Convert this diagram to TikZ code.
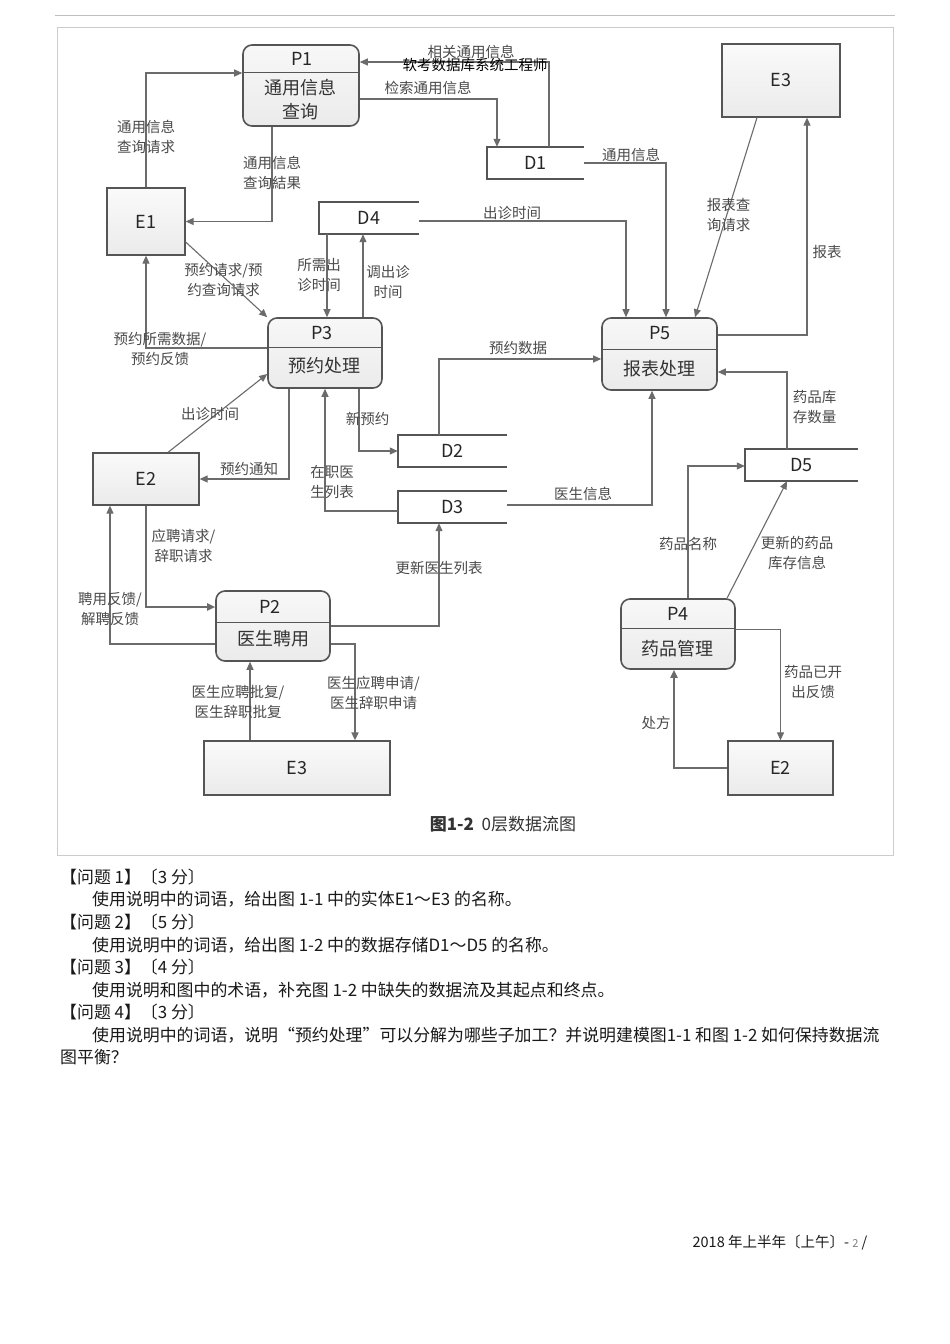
\documentclass[tikz,border=0pt]{standalone}
\usepackage{fontspec}
\setmainfont{Noto Sans CJK SC}
\usetikzlibrary{arrows.meta}

\definecolor{flowline}{HTML}{6B6B6B}
\definecolor{boxline}{HTML}{555555}
\definecolor{labeltext}{HTML}{4A4A4A}
\definecolor{boxfill}{HTML}{EBEBEB}
\definecolor{framegray}{HTML}{CCCCCC}

\tikzset{
  flow/.style={draw=flowline, line width=1.1pt, -{Triangle[length=8pt,width=7pt]}},
  boldflow/.style={flow, line width=1.8pt},
  ent/.style={draw=boxline, line width=1.3pt, top color=white!98!black, bottom color=boxfill,
    inner sep=0pt, font=\fontsize{18}{20}\selectfont, text=black!85},
  proc/.style={draw=boxline, line width=1.6pt, rounded corners=9pt, top color=white!97!black,
    bottom color=boxfill, inner sep=0pt},
  divider/.style={draw=boxline, line width=1.1pt},
  ptitle/.style={font=\fontsize{18}{20}\selectfont, text=black!85, inner sep=0pt},
  pname/.style={font=\fontsize{18}{24}\selectfont, align=center, text=black!80, inner sep=0pt},
  store/.style={minimum height=32pt, inner sep=0pt, font=\fontsize{18}{20}\selectfont, text=black!85},
  storeline/.style={draw=boxline, line width=1.8pt},
  lbl/.style={font=\fontsize{14.5}{20}\selectfont, align=center, text=labeltext, inner sep=0pt},
  wmark/.style={font=\fontsize{14.5}{16}\selectfont, text=black, inner sep=0pt},
  qline/.style={font=\fontsize{16.9}{20}\selectfont, anchor=west, text=black!90, inner sep=0pt},
}

\begin{document}
\begin{tikzpicture}[x=1pt, y=-1pt]
  \useasboundingbox (0,0) rectangle (950,1344);
  \fill[white] (0,0) rectangle (950,1344);
  \draw[gray!50] (55,15) -- (895,15);
  \draw[framegray] (57,27) rectangle (893,855);

  % entities
  \node[ent, minimum width=78pt, minimum height=67pt] (e1) at (146,221.5) {E1};
  \node[ent, minimum width=118pt, minimum height=73pt] (e3a) at (781,80.5) {E3};
  \node[ent, minimum width=106pt, minimum height=52pt] (e2a) at (146,479) {E2};
  \node[ent, minimum width=186pt, minimum height=54pt] (e3b) at (297,768) {E3};
  \node[ent, minimum width=105pt, minimum height=54pt] (e2b) at (780.5,768) {E2};

  % processes
  \node[proc, minimum width=116pt, minimum height=81pt] (p1) at (301,85.5) {};
  \draw[divider] ([yshift=-28pt]p1.north west) -- ([yshift=-28pt]p1.north east);
  \node[ptitle] (p1t) at (302,59) {P1};
  \node[pname] (p1n) at (300,100) {通用信息\\查询};

  \node[proc, minimum width=114pt, minimum height=70pt] (p3) at (325,353) {};
  \draw[divider] ([yshift=-30pt]p3.north west) -- ([yshift=-30pt]p3.north east);
  \node[ptitle] (p3t) at (322,333) {P3};
  \node[pname] (p3n) at (324,366) {预约处理};

  \node[proc, minimum width=115pt, minimum height=72pt] (p5) at (659.5,354) {};
  \draw[divider] ([yshift=-32pt]p5.north west) -- ([yshift=-32pt]p5.north east);
  \node[ptitle] (p5t) at (660,333) {P5};
  \node[pname] (p5n) at (659,369) {报表处理};

  \node[proc, minimum width=114pt, minimum height=70pt] (p2) at (273,626) {};
  \draw[divider] ([yshift=-32pt]p2.north west) -- ([yshift=-32pt]p2.north east);
  \node[ptitle] (p2t) at (270,607) {P2};
  \node[pname] (p2n) at (273,639) {医生聘用};

  \node[proc, minimum width=114pt, minimum height=70pt] (p4) at (678,634) {};
  \draw[divider] ([yshift=-30pt]p4.north west) -- ([yshift=-30pt]p4.north east);
  \node[ptitle] (p4t) at (678,614) {P4};
  \node[pname] (p4n) at (677,649) {药品管理};

  % data stores
  \node[store, minimum width=97pt] (d1) at (535.5,163) {D1};
  \node[store, minimum width=100pt] (d4) at (369,218) {D4};
  \node[store, minimum width=109pt] (d2) at (452.5,451) {D2};
  \node[store, minimum width=109pt] (d3) at (452.5,507) {D3};
  \node[store, minimum width=113pt] (d5) at (801.5,465) {D5};
  \foreach \s in {d1,d4,d2,d3,d5}
    \draw[storeline] (\s.north east) -- (\s.north west) -- (\s.south west) -- (\s.south east);

  % flows
  \draw[flow] (e1.north) |- ([yshift=12.5pt]p1.west);
  \draw[flow] ([xshift=-29pt]p1.south) |- (e1.east);
  \draw[flow] ([xshift=13.5pt]d1.north) |- ([yshift=23.5pt]p1.east);
  \draw[flow] ([yshift=-13.5pt]p1.east) -| ([xshift=-38.5pt]d1.north);
  \draw[flow] (d1.east) -| ([xshift=6.5pt]p5.north);
  \draw[flow] ([xshift=-24pt]e3a.south) -- ([xshift=35.5pt]p5.north);
  \draw[flow] ([yshift=19pt]p5.east) -| ([xshift=26pt]e3a.south);
  \draw[flow] ([yshift=-3pt]d4.east) -| ([xshift=-33.5pt]p5.north);
  \draw[flow] ([xshift=-42pt]d4.south) -- ([xshift=-42pt]d4.south |- p3.north);
  \draw[flow] ([xshift=38pt]p3.north) -- ([xshift=38pt]p3.north |- d4.south);
  \draw[flow] ([yshift=-20.5pt]e1.east) -- (p3.north west);
  \draw[flow] ([yshift=5pt]p3.west) -| (e1.south);
  \draw[flow] ([xshift=22pt]e2a.north) -- ([yshift=-21pt]p3.west);
  \draw[flow] ([xshift=-36pt]p3.south) |- (e2a.east);
  \draw[flow] ([xshift=34pt]p3.south) |- (d2.west);
  \draw[flow] ([yshift=-4pt]d3.west) -| (p3.south);
  \draw[flow] ([xshift=-13.5pt]d2.north) |- ([yshift=-5pt]p5.west);
  \draw[flow] ([yshift=2pt]d3.east) -| ([xshift=-7.5pt]p5.south);
  \draw[flow] ([xshift=-14.5pt]d5.north) |- ([yshift=-18pt]p5.east);
  \draw[flow] ([xshift=10pt]p4.north) |- ([yshift=-1pt]d5.west);
  \draw[flow] ([xshift=49pt]p4.north) -- ([xshift=-14.5pt]d5.south);
  \draw[flow] ([yshift=4.5pt]p4.east) -| (e2b.north);
  \draw[boldflow] (e2b.west) -| ([xshift=-4pt]p4.south);
  \draw[boldflow] (e2a.south) |- ([yshift=19pt]p2.west);
  \draw[flow] ([yshift=-18pt]p2.west) -| ([xshift=-36pt]e2a.south);
  \draw[flow] (p2.east) -| ([xshift=-13.5pt]d3.south);
  \draw[flow] ([xshift=-47pt]e3b.north) -- ([xshift=-47pt]e3b.north |- p2.south);
  \draw[boldflow] ([yshift=-18pt]p2.east) -| ([xshift=58pt]e3b.north);

  % flow labels
  \node[lbl] (l1) at (146,137) {通用信息\\查询请求};
  \node[lbl] (l2) at (272,173) {通用信息\\查询結果};
  \node[lbl] (l3) at (471,52) {相关通用信息};
  \node[wmark] (wm) at (475,65) {软考数据库系统工程师};
  \node[lbl] (l4) at (428,88) {检索通用信息};
  \node[lbl] (l5) at (631,155) {通用信息};
  \node[lbl] (l6) at (728.5,215) {报表查\\询请求};
  \node[lbl] (l7) at (827,252) {报表};
  \node[lbl] (l8) at (512,213) {出诊时间};
  \node[lbl] (l9) at (319,274.5) {所需出\\诊时间};
  \node[lbl] (l10) at (388,282) {调出诊\\时间};
  \node[lbl] (l11) at (223.5,280) {预约请求/预\\约查询请求};
  \node[lbl] (l12) at (160,348.5) {预约所需数据/\\预约反馈};
  \node[lbl] (l13) at (210,414) {出诊时间};
  \node[lbl] (l14) at (249,469) {预约通知};
  \node[lbl] (l15) at (367.5,419) {新预约};
  \node[lbl] (l16) at (332,482.5) {在职医\\生列表};
  \node[lbl] (l17) at (518,348) {预约数据};
  \node[lbl] (l18) at (583,494) {医生信息};
  \node[lbl] (l19) at (814.5,407) {药品库\\存数量};
  \node[lbl] (l20) at (688,544) {药品名称};
  \node[lbl] (l21) at (797,552.5) {更新的药品\\库存信息};
  \node[lbl] (l22) at (813,682) {药品已开\\出反馈};
  \node[lbl] (l23) at (656,723) {处方};
  \node[lbl] (l24) at (183.5,546) {应聘请求/\\辞职请求};
  \node[lbl] (l25) at (110,609) {聘用反馈/\\解聘反馈};
  \node[lbl] (l26) at (439,568) {更新医生列表};
  \node[lbl] (l27) at (238,702) {医生应聘批复/\\医生辞职批复};
  \node[lbl] (l28) at (373.5,693) {医生应聘申请/\\医生辞职申请};

  \node[font=\fontsize{17}{20}\selectfont, text=black!80] (cap) at (503,824) {\textbf{图1-2}\ \ 0层数据流图};

  % questions
  \node[qline] (q1) at (60,877) {【问题 1】〔3 分〕};
  \node[qline] (q1a) at (92,899) {使用说明中的词语，给出图 1-1 中的实体E1～E3 的名称。};
  \node[qline] (q2) at (60,922) {【问题 2】〔5 分〕};
  \node[qline] (q2a) at (92,945) {使用说明中的词语，给出图 1-2 中的数据存储D1～D5 的名称。};
  \node[qline] (q3) at (60,967) {【问题 3】〔4 分〕};
  \node[qline] (q3a) at (92,990) {使用说明和图中的术语，补充图 1-2 中缺失的数据流及其起点和终点。};
  \node[qline] (q4) at (60,1012) {【问题 4】〔3 分〕};
  \node[qline] (q4a) at (92,1035) {使用说明中的词语，说明“预约处理”可以分解为哪些子加工？并说明建模图1-1 和图 1-2 如何保持数据流};
  \node[qline] (q4b) at (60,1057) {图平衡？};

  \node[font=\fontsize{14.5}{16}\selectfont, text=black!90] (pg) at (780,1243) {2018 年上半年〔上午〕- {\color{gray}\fontsize{11}{12}\selectfont 2} /};
\end{tikzpicture}
\end{document}
